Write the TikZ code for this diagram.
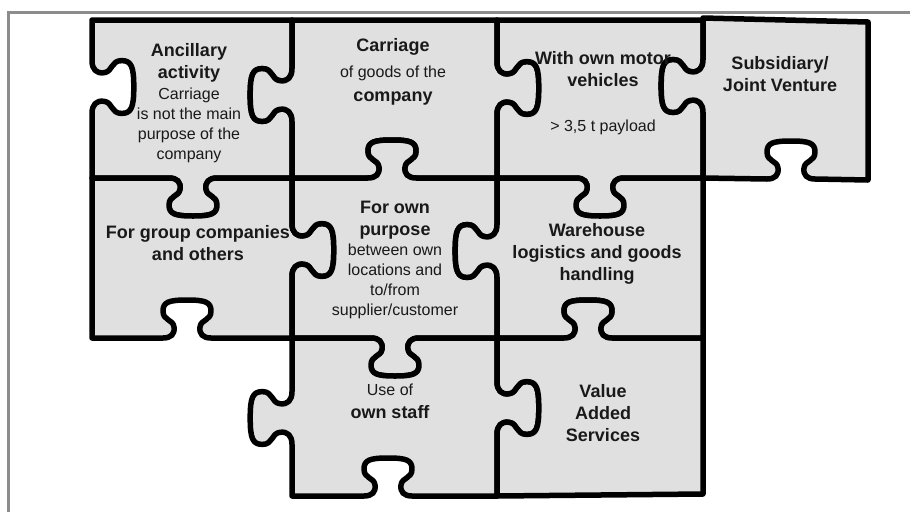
\documentclass[tikz,border=0pt]{standalone}
\usepackage{fontspec}
\setmainfont{Liberation Sans}
\usepackage{tikz}
\newcommand{\pzbold}{\fontsize{18}{22}\selectfont\bfseries}
% knob on an edge: centre (#1,#2), run direction (#3,#4), bulge direction (#5,#6)
\def\knob#1#2#3#4#5#6{%
	-- ({#1-24*(#3)},{#2-24*(#4)})
	.. controls ({#1-16*(#3)},{#2-16*(#4)}) and ({#1-12*(#3)+4*(#5)},{#2-12*(#4)+4*(#6)}) .. ({#1-13*(#3)+11*(#5)},{#2-13*(#4)+11*(#6)})
	.. controls ({#1-14*(#3)+19*(#5)},{#2-14*(#4)+19*(#6)}) and ({#1-24*(#3)+17*(#5)},{#2-24*(#4)+17*(#6)}) .. ({#1-24*(#3)+27*(#5)},{#2-24*(#4)+27*(#6)})
	.. controls ({#1-24*(#3)+36*(#5)},{#2-24*(#4)+36*(#6)}) and ({#1-18*(#3)+38*(#5)},{#2-18*(#4)+38*(#6)}) .. ({#1+38*(#5)},{#2+38*(#6)})
	.. controls ({#1+18*(#3)+38*(#5)},{#2+18*(#4)+38*(#6)}) and ({#1+24*(#3)+36*(#5)},{#2+24*(#4)+36*(#6)}) .. ({#1+24*(#3)+27*(#5)},{#2+24*(#4)+27*(#6)})
	.. controls ({#1+24*(#3)+17*(#5)},{#2+24*(#4)+17*(#6)}) and ({#1+14*(#3)+19*(#5)},{#2+14*(#4)+19*(#6)}) .. ({#1+13*(#3)+11*(#5)},{#2+13*(#4)+11*(#6)})
	.. controls ({#1+12*(#3)+4*(#5)},{#2+12*(#4)+4*(#6)}) and ({#1+16*(#3)},{#2+16*(#4)}) .. ({#1+24*(#3)},{#2+24*(#4)})}
\tikzset{
	piece/.style={draw=black, fill=black!12, line width=5.5pt, line join=round},
	pztext/.style={align=center, font=\fontsize{16}{20}\selectfont, text=black!90},
	frameline/.style={draw=black!45, line width=3pt}
}

\begin{document}
\begin{tikzpicture}[x=1pt, y=-1pt]
			%%%%% START %%%%%
			\useasboundingbox (0,0) rectangle (910,512);
			
			\draw[frameline] (8,512) -- (8,12) -- (910,12);
			
			% top row
			\draw[piece] (92,20) -- (292,20) \knob{292}{95}{0}{1.1}{-1.1}{0} -- (292,178)
				\knob{193}{178}{-1}{0}{0}{1} -- (92,178) \knob{92}{87}{0}{-1.1}{1.1}{0} -- cycle;
			\draw[piece] (292,20) -- (497,20) \knob{497}{88}{0}{1.1}{1.1}{0} -- (497,178)
				\knob{392}{178}{-1}{0}{0}{-1} -- (292,178) \knob{292}{95}{0}{-1.1}{-1.1}{0} -- cycle;
			\draw[piece] (497,20) -- (703,20) \knob{703}{86}{0}{1.1}{-1.1}{0} -- (703,178)
				\knob{600}{178}{-1}{0}{0}{1} -- (497,178) \knob{497}{88}{0}{-1.1}{1.1}{0} -- cycle;
			\draw[piece] (703,18) -- (868,22) -- (868,180)
				\knob{791}{179}{-1}{0}{0}{-1} -- (703,178) \knob{703}{86}{0}{-1.1}{-1.1}{0} -- cycle;
			
			% middle row
			\draw[piece] (92,178) \knob{193}{178}{1}{0}{0}{1} -- (292,178) \knob{292}{250}{0}{1.1}{1.1}{0} -- (292,338)
				\knob{187}{338}{-1}{0}{0}{-1} -- (92,338) -- cycle;
			\draw[piece] (292,178) \knob{392}{178}{1}{0}{0}{-1} -- (497,178) \knob{497}{251}{0}{1.1}{-1.1}{0} -- (497,338)
				\knob{395}{338}{-1}{0}{0}{1} -- (292,338) \knob{292}{250}{0}{-1.1}{1.1}{0} -- cycle;
			\draw[piece] (497,178) \knob{600}{178}{1}{0}{0}{1} -- (703,178) -- (703,338)
				\knob{588}{338}{-1}{0}{0}{-1} -- (497,338) \knob{497}{251}{0}{-1.1}{-1.1}{0} -- cycle;
			
			% bottom row
			\draw[piece] (292,338) \knob{395}{338}{1}{0}{0}{1} -- (497,338) \knob{497}{408}{0}{1.1}{1.1}{0} -- (497,496)
				\knob{388}{496}{-1}{0}{0}{-1} -- (292,496) \knob{292}{418}{0}{-1.1}{-1.1}{0} -- cycle;
			\draw[piece] (497,338) \knob{588}{338}{1}{0}{0}{-1} -- (703,338) -- (703,494) -- (497,496)
				\knob{497}{408}{0}{-1.1}{1.1}{0} -- cycle;
			
			\node[pztext] (ancillary) at (189,103) {\pzbold Ancillary\\[2pt] \pzbold activity\\[1pt] Carriage\\ is not the main\\ purpose of the\\ company};
			\node[pztext] (carriage) at (393,72) {\pzbold Carriage\\[6pt] of goods of the\\[4pt] \pzbold company};
			\node[pztext] (vehicles) at (603,93) {\pzbold With own motor\\[2pt] \pzbold vehicles\\[25pt] > 3,5 t payload};
			\node[pztext] (subsidiary) at (780,74) {\pzbold Subsidiary/\\[2pt] \pzbold Joint Venture};
			\node[pztext] (group) at (198,243) {\pzbold For group companies\\[2pt] \pzbold and others};
			\node[pztext] (ownpurpose) at (395,260) {\pzbold For own\\[2pt] \pzbold purpose\\ between own\\ locations and\\ to/from\\ supplier/customer};
			\node[pztext] (warehouse) at (597,254) {\pzbold Warehouse\\[2pt] \pzbold logistics and goods\\[2pt] \pzbold handling};
			\node[pztext] (staff) at (390,401) {Use of\\[3pt] \pzbold own staff};
			\node[pztext] (services) at (603,413) {\pzbold Value\\[2pt] \pzbold Added\\[2pt] \pzbold Services};
			
			%%%%% END %%%%%
		\end{tikzpicture}
\end{document}
